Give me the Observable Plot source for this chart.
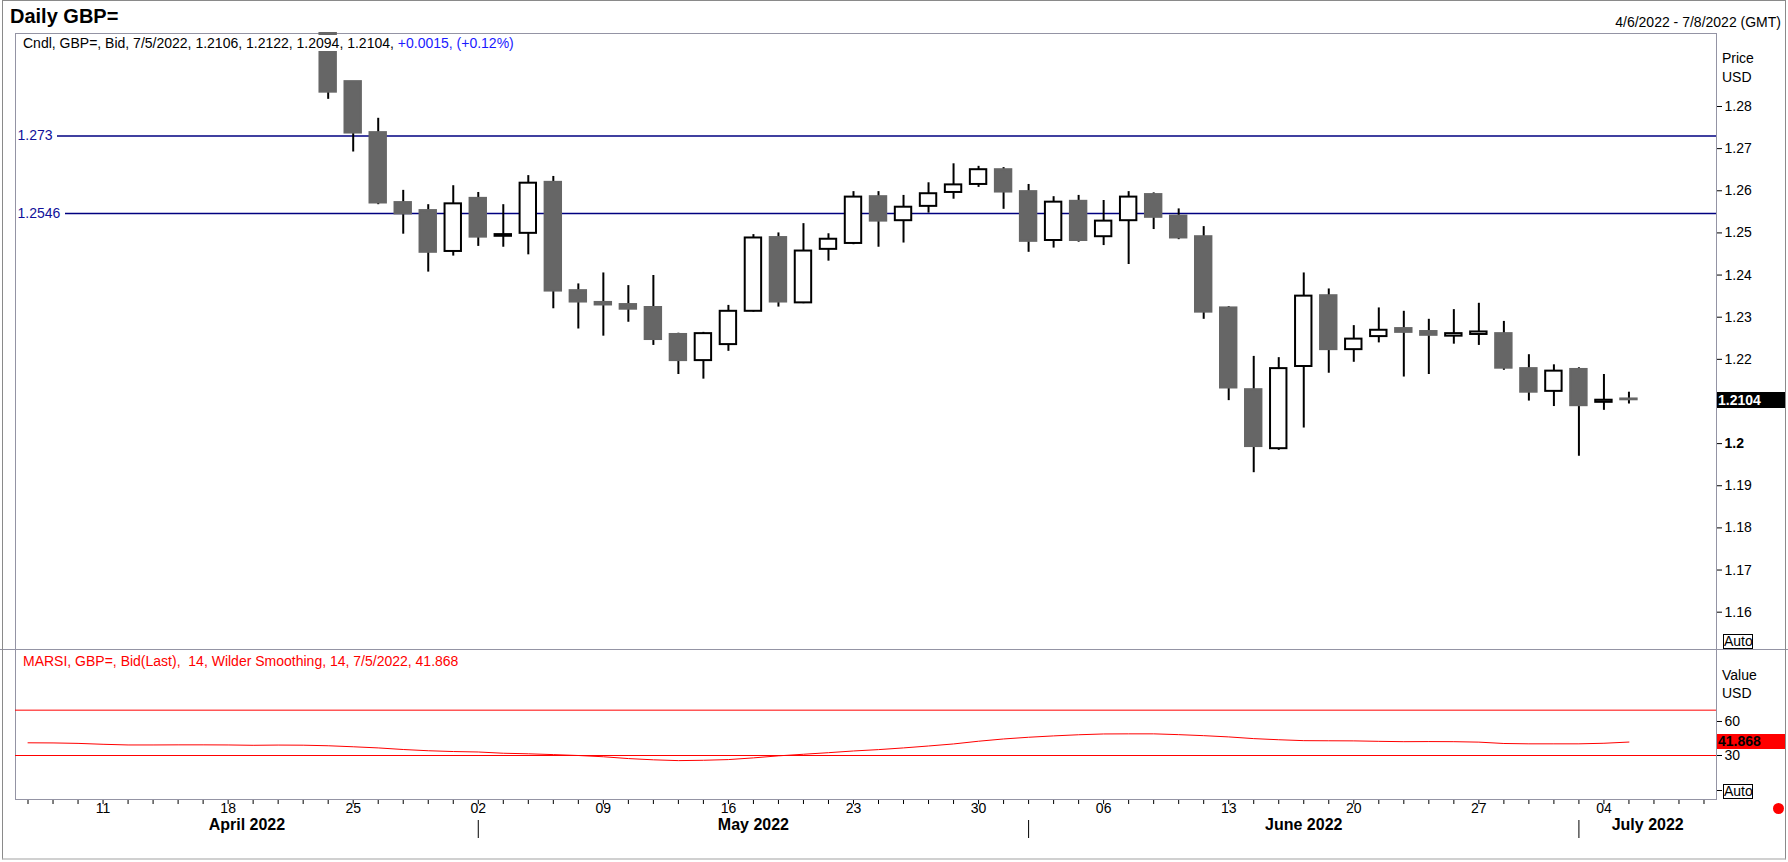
<!DOCTYPE html>
<html><head><meta charset="utf-8">
<script src="https://cdn.jsdelivr.net/npm/d3@7"></script>
<script src="https://cdn.jsdelivr.net/npm/@observablehq/plot@0.6"></script>
<style>
html,body{margin:0;padding:0;background:#fff;overflow:hidden;}
#root{position:relative;width:1788px;height:862px;font-family:"Liberation Sans",Arial,sans-serif;color:#000;background:#fff;}
.abs{position:absolute;white-space:nowrap;}
</style></head><body><div id="root"></div>
<script>
// ---------- data ----------
const days = ["2022-04-06","2022-04-07","2022-04-08","2022-04-11","2022-04-12","2022-04-13","2022-04-14","2022-04-15","2022-04-18","2022-04-19","2022-04-20","2022-04-21","2022-04-22","2022-04-25","2022-04-26","2022-04-27","2022-04-28","2022-04-29","2022-05-02","2022-05-03","2022-05-04","2022-05-05","2022-05-06","2022-05-09","2022-05-10","2022-05-11","2022-05-12","2022-05-13","2022-05-16","2022-05-17","2022-05-18","2022-05-19","2022-05-20","2022-05-23","2022-05-24","2022-05-25","2022-05-26","2022-05-27","2022-05-30","2022-05-31","2022-06-01","2022-06-02","2022-06-03","2022-06-06","2022-06-07","2022-06-08","2022-06-09","2022-06-10","2022-06-13","2022-06-14","2022-06-15","2022-06-16","2022-06-17","2022-06-20","2022-06-21","2022-06-22","2022-06-23","2022-06-24","2022-06-27","2022-06-28","2022-06-29","2022-06-30","2022-07-01","2022-07-04","2022-07-05","2022-07-06","2022-07-07","2022-07-08"];
const firstCandleDate = "2022-04-22";
const open  = [1.3046,1.2859,1.2738,1.2572,1.2553,1.2456,1.2582,1.2492,1.2499,1.2620,1.2363,1.2335,1.2330,1.2323,1.2259,1.2197,1.2235,1.2314,1.2489,1.2334,1.2461,1.2475,1.2586,1.2529,1.2563,1.2596,1.2615,1.2650,1.2598,1.2482,1.2575,1.2491,1.2529,1.2591,1.2540,1.2491,1.2322,1.2128,1.1988,1.2183,1.2351,1.2223,1.2254,1.2273,1.2266,1.2255,1.2259,1.2261,1.2178,1.2124,1.2176,1.2098,1.2106];
const high  = [1.3054,1.2859,1.2772,1.2601,1.2567,1.2612,1.2596,1.2567,1.2636,1.2634,1.2379,1.2405,1.2375,1.2399,1.2262,1.2264,1.2328,1.2496,1.2500,1.2522,1.2498,1.2598,1.2598,1.2589,1.2619,1.2664,1.2658,1.2655,1.2615,1.2586,1.2589,1.2577,1.2598,1.2595,1.2557,1.2515,1.2325,1.2207,1.2204,1.2405,1.2367,1.2280,1.2322,1.2314,1.2295,1.2318,1.2333,1.2290,1.2211,1.2187,1.2180,1.2164,1.2122];
const low   = [1.2817,1.2692,1.2567,1.2497,1.2407,1.2445,1.2468,1.2466,1.2448,1.2320,1.2272,1.2255,1.2288,1.2233,1.2164,1.2153,1.2219,1.2312,1.2324,1.2332,1.2433,1.2472,1.2466,1.2476,1.2547,1.2580,1.2608,1.2556,1.2454,1.2464,1.2478,1.2470,1.2425,1.2508,1.2484,1.2295,1.2102,1.1931,1.1984,1.2037,1.2167,1.2193,1.2239,1.2158,1.2164,1.2236,1.2233,1.2174,1.2101,1.2088,1.1970,1.2079,1.2094];
const close = [1.2834,1.2737,1.2571,1.2545,1.2454,1.2569,1.2490,1.2496,1.2618,1.2362,1.2336,1.2329,1.2319,1.2247,1.2197,1.2261,1.2314,1.2488,1.2336,1.2457,1.2485,1.2585,1.2528,1.2561,1.2593,1.2614,1.2650,1.2597,1.2480,1.2573,1.2482,1.2528,1.2585,1.2537,1.2488,1.2312,1.2132,1.1993,1.2178,1.2350,1.2223,1.2248,1.2269,1.2264,1.2257,1.2261,1.2265,1.2179,1.2122,1.2172,1.2090,1.2103,1.2104];
const rsi = [41.2,41.1,40.7,39.9,39.3,39.3,39.4,39.4,39.3,39.0,39.2,39.1,38.6,37.7,36.7,35.3,34.2,33.5,33.1,32.0,31.5,30.8,30.0,28.9,27.3,26.2,25.5,25.8,26.4,27.9,29.7,31.1,32.5,34.0,35.2,36.7,38.4,40.2,42.6,44.6,46.1,47.3,48.3,49.0,49.1,49.1,48.4,47.5,46.4,44.9,43.9,43.1,43.0,42.9,42.5,42.2,42.3,42.2,41.8,40.6,40.3,40.3,40.3,40.8,41.868];
const levels = [1.273, 1.2546];
const levelLabels = ["1.273", "1.2546"];
const priceTicks = [1.16,1.17,1.18,1.19,1.2,1.22,1.23,1.24,1.25,1.26,1.27,1.28];
const rsiTicks = [60, 30];
const rsiBands = [70, 30];
const monthNames = ["April 2022","May 2022","June 2022","July 2022"];
const monthKeys = ["2022-04","2022-05","2022-06","2022-07"];
const titleText = "Daily GBP=";
const rangeText = "4/6/2022 - 7/8/2022 (GMT)";
const headerText = "Cndl, GBP=, Bid, 7/5/2022, 1.2106, 1.2122, 1.2094, 1.2104,";
const headerChange = "+0.0015, (+0.12%)";
const rsiHeader = "MARSI, GBP=, Bid(Last),\u00a0 14, Wilder Smoothing, 14, 7/5/2022, 41.868";

// ---------- derived ----------
const start = days.indexOf(firstCandleDate);
const candles = open.map((o, k) => ({i: start + k, date: days[start + k], open: o, high: high[k], low: low[k], close: close[k]}));
const up = candles.filter(d => d.close >= d.open);
const down = candles.filter(d => d.close < d.open);
const rsiData = rsi.map((v, i) => ({i, v}));
const xDomain = [-0.5, days.length - 0.5];
const monthStarts = monthKeys.map(m => days.findIndex(d => d.startsWith(m)));
const bounds = [xDomain[0], ...monthStarts.slice(1), xDomain[1]];
const monthCenters = monthNames.map((_, k) => (bounds[k] + bounds[k + 1]) / 2);
const mondays = days.map((d, i) => ({i, d})).filter(o => new Date(o.d + "T00:00:00Z").getUTCDay() === 1);

const W = 1788, FL = 15, FR = 1716;
const half = 0.328;
const frameColor = "#9494a4";
const navy = "#000080";
const red = "#ff0000";
const font = '"Liberation Sans", Arial, sans-serif';
const baseStyle = {fontFamily: font, fontSize: "14px", color: "#000", background: "transparent", overflow: "visible"};

const root = document.getElementById("root");

// ---------- price panel ----------
const main = Plot.plot({
  width: W, height: 616,
  marginLeft: FL, marginRight: W - FR, marginTop: 0, marginBottom: 0,
  style: baseStyle,
  x: {domain: xDomain, axis: null},
  y: {domain: [1.151144, 1.297323], clamp: true, axis: "right", ticks: priceTicks, tickSize: 5, tickPadding: 3, tickFormat: d => String(d), label: null},
  marks: [
    Plot.frame({stroke: frameColor}),
    Plot.ruleY([levels[0]], {stroke: navy, strokeWidth: 1.6, insetLeft: 42}),
    Plot.ruleY([levels[1]], {stroke: navy, strokeWidth: 1.6, insetLeft: 50}),
    Plot.text(levels, {y: d => d, text: levelLabels, frameAnchor: "left", textAnchor: "start", dx: 2, fill: "#10109a", fontSize: 14}),
    Plot.ruleX(candles, {x: "i", y1: "low", y2: "high", stroke: "#000", strokeWidth: 2}),
    Plot.rect(down, {x1: d => d.i - half, x2: d => d.i + half, y1: "open", y2: "close", fill: "#666666", stroke: "#666666", strokeWidth: 2}),
    Plot.rect(up, {x1: d => d.i - half, x2: d => d.i + half, y1: "open", y2: "close", fill: "#ffffff", stroke: "#000", strokeWidth: 2})
  ]
});
main.style.position = "absolute";
main.style.left = "0px";
main.style.top = "33px";
root.appendChild(main);
d3.select(main).selectAll("text").filter(function() { return this.textContent === "1.2"; }).attr("font-weight", "bold");

// ---------- RSI panel ----------
const rsiPlot = Plot.plot({
  width: W, height: 213,
  marginLeft: FL, marginRight: W - FR, marginTop: 0, marginBottom: 63,
  style: baseStyle,
  x: {domain: xDomain, axis: null},
  y: {domain: [-8.8, 123.5], axis: "right", ticks: rsiTicks, tickSize: 5, tickPadding: 3, tickFormat: d => String(d), label: null},
  marks: [
    Plot.frame({stroke: frameColor}),
    Plot.ruleY(rsiBands, {stroke: red}),
    Plot.line(rsiData, {x: "i", y: "v", stroke: red, strokeWidth: 1}),
    Plot.ruleX(d3.range(days.length), {insetTop: 151, insetBottom: -5, stroke: "#000"}),
    Plot.text(mondays, {x: "i", text: o => o.d.slice(8), frameAnchor: "bottom", dy: 13, fontSize: 14}),
    Plot.ruleX(monthStarts.slice(1), {insetTop: 171, insetBottom: -39, stroke: "#000"}),
    Plot.text(monthNames, {x: monthCenters, text: d => d, frameAnchor: "bottom", dy: 30, fontWeight: "bold", fontSize: 16})
  ]
});
rsiPlot.style.position = "absolute";
rsiPlot.style.left = "0px";
rsiPlot.style.top = "649px";
root.appendChild(rsiPlot);

// ---------- HTML text & decorations ----------
function add(html, css) {
  const el = document.createElement("div");
  el.className = "abs";
  el.innerHTML = html;
  Object.assign(el.style, css);
  root.appendChild(el);
  return el;
}
const last = candles[candles.length - 1];

add("", {left: "0px", top: "649px", width: W + "px", height: "1px", background: frameColor});

add(titleText, {left: "10px", top: "6px", fontSize: "20px", lineHeight: "20px", fontWeight: "bold"});
add(rangeText, {right: "7px", top: "15px", fontSize: "14px", lineHeight: "14px"});
add(`${headerText} <span style="color:#1a1aff">${headerChange}</span>`,
  {left: "16px", top: "35px", height: "16px", fontSize: "14px", lineHeight: "16px", background: "#fff", paddingLeft: "7px", paddingRight: "3px"});
add(rsiHeader, {left: "23px", top: "653px", fontSize: "14px", lineHeight: "16px", color: red});

add("Price", {left: "1722px", top: "51px", fontSize: "14px", lineHeight: "14px"});
add("USD", {left: "1722px", top: "70px", fontSize: "14px", lineHeight: "14px"});
add("Value", {left: "1722px", top: "668px", fontSize: "14px", lineHeight: "14px"});
add("USD", {left: "1722px", top: "686px", fontSize: "14px", lineHeight: "14px"});

add(String(last.close), {left: "1717px", top: "392px", width: "68px", height: "16px", background: "#000", color: "#fff", fontWeight: "bold", fontSize: "14px", lineHeight: "16px", paddingLeft: "1px", boxSizing: "border-box"});
add(String(rsi[rsi.length - 1]), {left: "1717px", top: "734px", width: "68px", height: "15px", background: red, color: "#000", fontWeight: "bold", fontSize: "14px", lineHeight: "15px", paddingLeft: "1px", boxSizing: "border-box"});

add("Auto", {left: "1723px", top: "634px", width: "30px", height: "15px", border: "1px solid #000", boxSizing: "border-box", fontSize: "14px", lineHeight: "13px", textAlign: "center", background: "#fff"});
add("Auto", {left: "1723px", top: "784px", width: "30px", height: "15px", border: "1px solid #000", boxSizing: "border-box", fontSize: "14px", lineHeight: "13px", textAlign: "center", background: "#fff"});
add("", {left: "1717px", top: "790px", width: "5px", height: "1px", background: "#000"});

add("", {left: "1773px", top: "803px", width: "11px", height: "11px", borderRadius: "50%", background: red});

add("", {left: "2px", top: "0px", width: "1784px", height: "860px", border: "1px solid #8a8a8a", borderBottom: "2px solid #d0d0d0", boxSizing: "border-box", pointerEvents: "none"});
</script></body></html>
